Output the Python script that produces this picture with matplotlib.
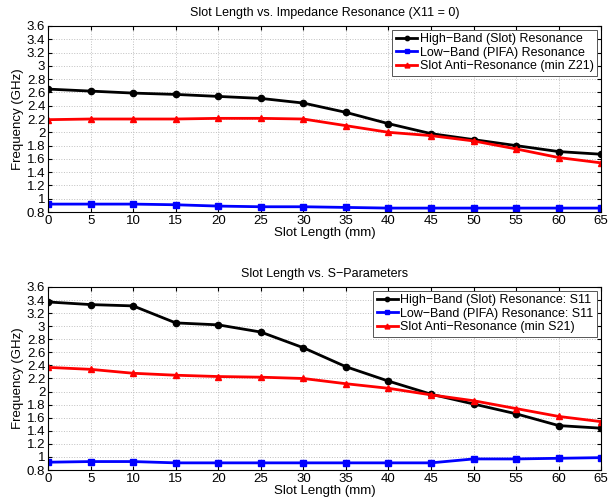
#!/usr/bin/env python3
"""Slot length vs. resonance frequencies, two stacked MATLAB-style panels."""
import matplotlib

matplotlib.use("Agg")
import matplotlib.pyplot as plt

plt.rcParams["font.family"] = ["Liberation Sans", "DejaVu Sans"]
plt.rcParams["font.size"] = 9.5

slot_mm = [0, 5, 10, 15, 20, 25, 30, 35, 40, 45, 50, 55, 60, 65]

# Top panel: impedance resonance (X11 = 0)
imp_high = [2.65, 2.62, 2.59, 2.57, 2.54, 2.51, 2.44, 2.30, 2.13, 1.98, 1.89, 1.80, 1.71, 1.67]
imp_low = [0.92, 0.92, 0.92, 0.91, 0.89, 0.88, 0.88, 0.87, 0.86, 0.86, 0.86, 0.86, 0.86, 0.86]
imp_anti = [2.19, 2.20, 2.20, 2.20, 2.21, 2.21, 2.20, 2.10, 2.00, 1.95, 1.87, 1.75, 1.62, 1.54]

# Bottom panel: S-parameters
s_high = [3.37, 3.33, 3.31, 3.05, 3.02, 2.91, 2.67, 2.38, 2.16, 1.96, 1.81, 1.66, 1.48, 1.44]
s_low = [0.92, 0.93, 0.93, 0.91, 0.91, 0.91, 0.91, 0.91, 0.91, 0.91, 0.97, 0.97, 0.98, 0.99]
s_anti = [2.37, 2.34, 2.28, 2.25, 2.23, 2.22, 2.20, 2.12, 2.05, 1.95, 1.86, 1.74, 1.62, 1.54]

y_ticks = [0.8, 1, 1.2, 1.4, 1.6, 1.8, 2, 2.2, 2.4, 2.6, 2.8, 3, 3.2, 3.4, 3.6]


def fmt(v):
    return ("%g" % v)


def panel(ax, high, low, anti, labels, title):
    ax.plot(slot_mm, high, color="black", marker="o", markersize=4.5, linewidth=2, label=labels[0])
    ax.plot(slot_mm, low, color="blue", marker="s", markersize=4, linewidth=2, label=labels[1])
    ax.plot(slot_mm, anti, color="red", marker="^", markersize=5, linewidth=2, label=labels[2])
    ax.set_xlim(0, 65)
    ax.set_ylim(0.8, 3.6)
    ax.set_xticks(slot_mm)
    ax.set_yticks(y_ticks)
    ax.set_yticklabels([fmt(v) for v in y_ticks])
    ax.tick_params(direction="in", length=3, top=True, right=True, pad=2)
    ax.grid(True, linestyle=":", color="#c0c0c0", linewidth=0.7)
    ax.set_xlabel("Slot Length (mm)", labelpad=0)
    ax.set_ylabel("Frequency (GHz)", labelpad=2)
    ax.set_title(title, fontsize=9, pad=7)
    leg = ax.legend(loc="upper right", fontsize=9, handlelength=1.7, handletextpad=0.2,
                    borderpad=0.3, labelspacing=0.1, borderaxespad=0.3,
                    fancybox=False, framealpha=1, edgecolor="#555555", markerscale=0.7)
    leg.get_frame().set_linewidth(0.7)


fig = plt.figure(figsize=(6.16, 4.99), dpi=100)
ax1 = fig.add_axes([0.078, 0.575, 0.898, 0.373])
ax2 = fig.add_axes([0.078, 0.058, 0.898, 0.367])

panel(ax1, imp_high, imp_low, imp_anti,
      ["High\u2212Band (Slot) Resonance", "Low\u2212Band (PIFA) Resonance",
       "Slot Anti\u2212Resonance (min Z21)"],
      "Slot Length vs. Impedance Resonance (X11 = 0)")
panel(ax2, s_high, s_low, s_anti,
      ["High\u2212Band (Slot) Resonance: S11", "Low\u2212Band (PIFA) Resonance: S11",
       "Slot Anti\u2212Resonance (min S21)"],
      "Slot Length vs. S\u2212Parameters")

fig.savefig("out.png", dpi=100)
